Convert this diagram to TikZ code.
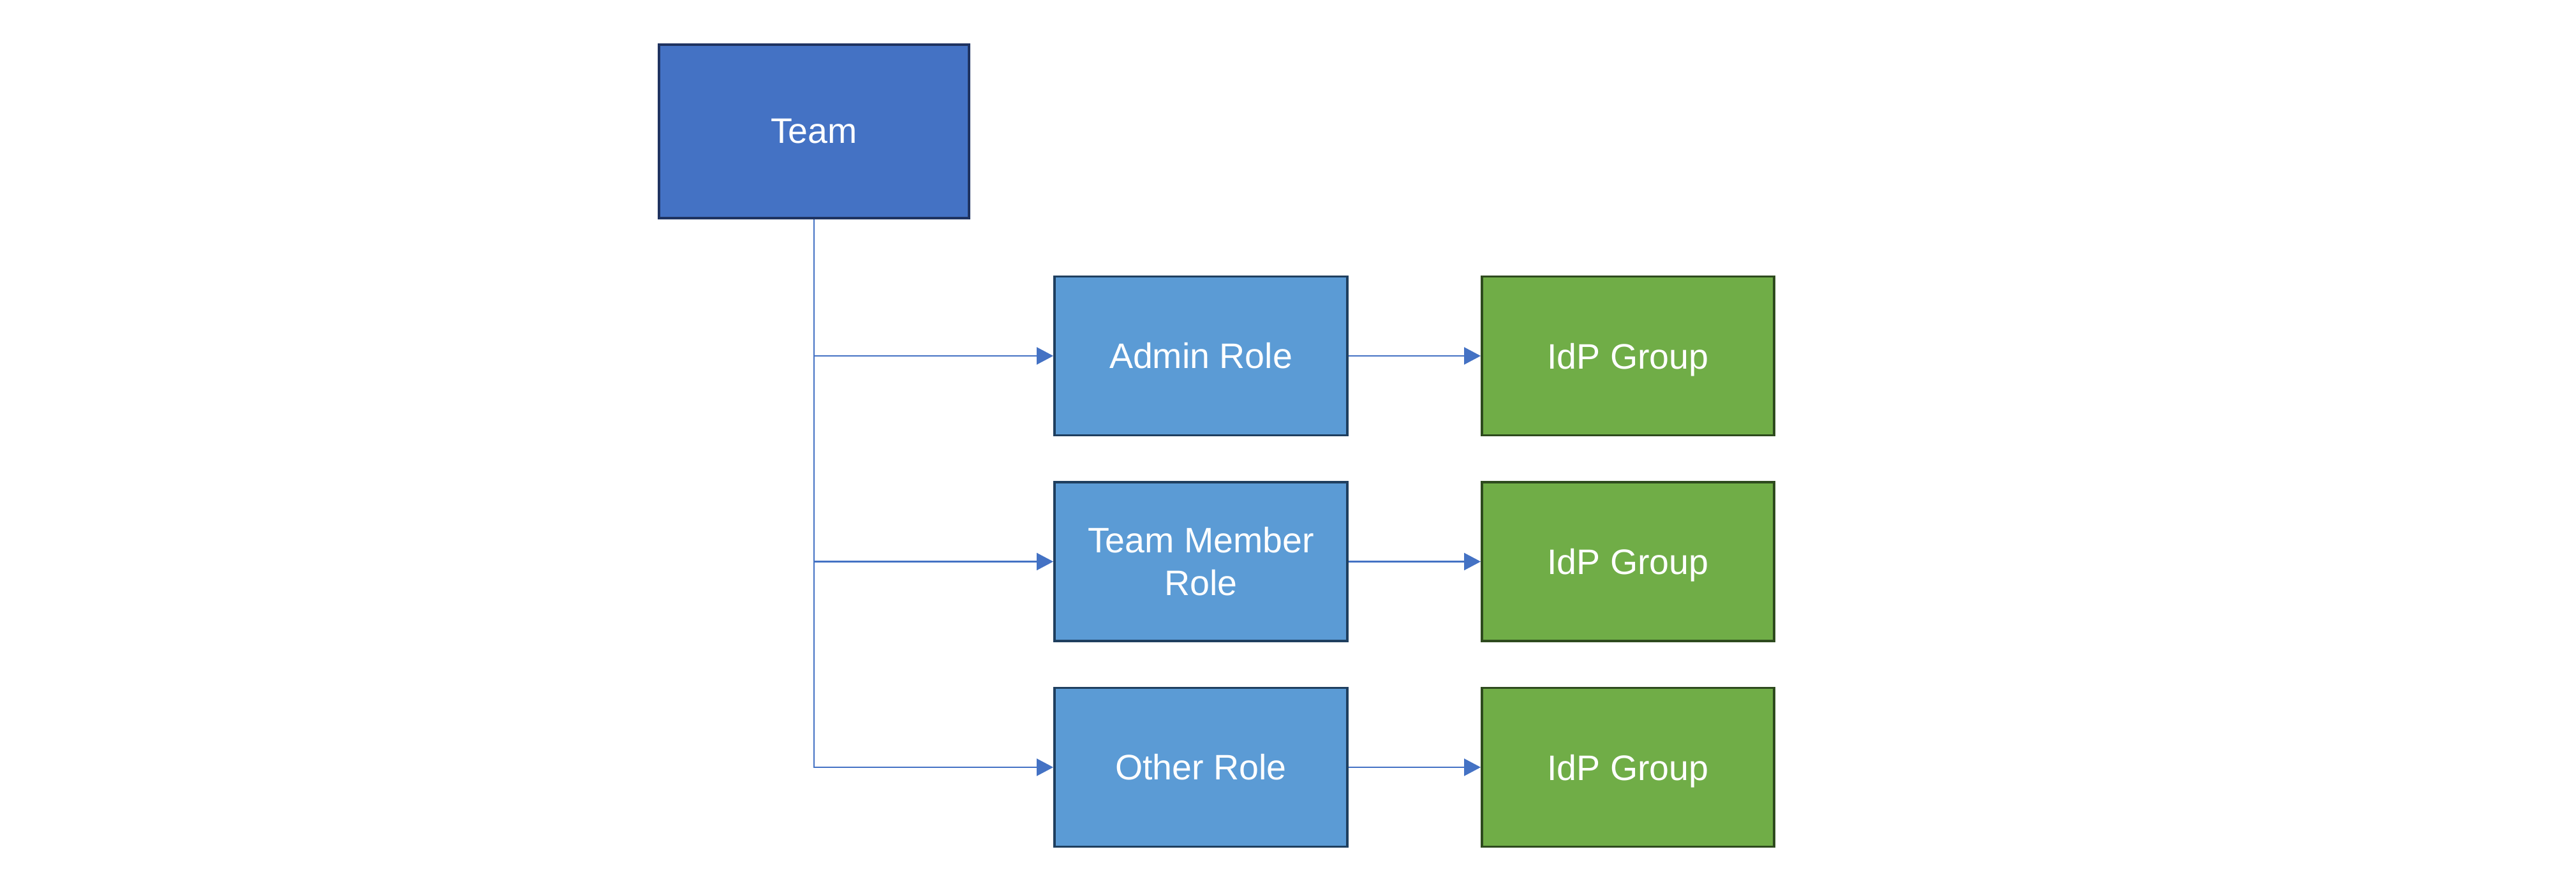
\documentclass[tikz,border=0pt]{standalone}
\usepackage{fontspec}
\setmainfont{Liberation Sans}
\usetikzlibrary{arrows.meta}
\definecolor{teamfill}{HTML}{4472C4}
\definecolor{teamline}{HTML}{1F3361}
\definecolor{rolefill}{HTML}{5B9BD5}
\definecolor{roleline}{HTML}{1F3F5F}
\definecolor{grpfill}{HTML}{70AD47}
\definecolor{grpline}{HTML}{2E4A1E}
\definecolor{link}{HTML}{4472C4}
\tikzset{
  box/.style={rectangle, draw, line width=1.1pt, text=white, align=center,
    font=\fontsize{15.8}{19}\selectfont, inner sep=0pt},
  teambox/.style={box, fill=teamfill, draw=teamline, minimum width=4.86cm, minimum height=2.72cm},
  rolebox/.style={box, fill=rolefill, draw=roleline, minimum width=4.59cm, minimum height=2.49cm},
  grpbox/.style={box, fill=grpfill, draw=grpline, minimum width=4.58cm, minimum height=2.49cm, text depth=0pt},
  linkline/.style={draw=link, line width=0.6pt, -{Triangle[length=0.26cm, width=0.27cm]}}
}
\begin{document}
\begin{tikzpicture}
\useasboundingbox (0,0) rectangle (40.38,13.85);
% top-level team
\node[teambox] (team) at (12.76,11.79) {Team};
% roles
\node[rolebox] (admin) at (18.825,8.27) {Admin Role};
\node[rolebox] (member) at (18.825,5.045) {Team Member\\Role};
\node[rolebox] (other) at (18.825,1.82) {Other Role};
% identity provider groups
\node[grpbox] (g1) at (25.52,8.27) {IdP Group};
\node[grpbox] (g2) at (25.52,5.045) {IdP Group};
\node[grpbox] (g3) at (25.52,1.82) {IdP Group};
% team to roles
\draw[linkline] (team.south) |- (admin.west);
\draw[linkline] (team.south) |- (member.west);
\draw[linkline] (team.south) |- (other.west);
% roles to groups
\draw[linkline] (admin.east) -- (g1.west);
\draw[linkline] (member.east) -- (g2.west);
\draw[linkline] (other.east) -- (g3.west);
\end{tikzpicture}
\end{document}
